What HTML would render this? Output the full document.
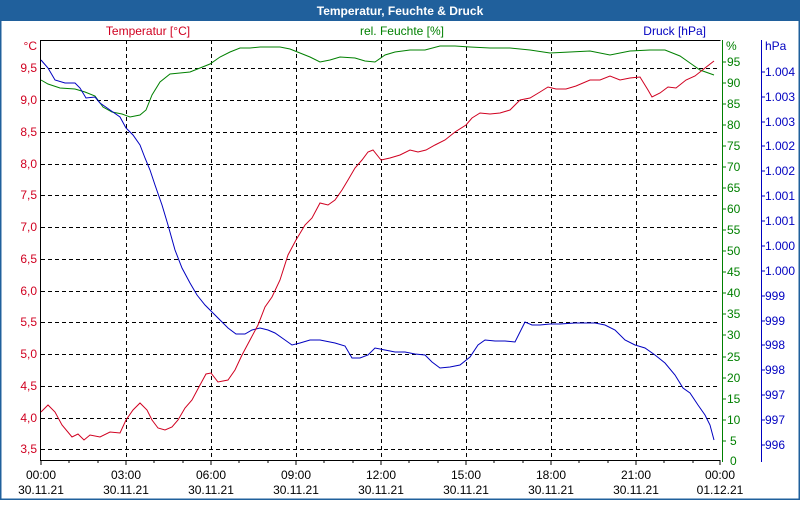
<!DOCTYPE html>
<html><head><meta charset="utf-8"><style>
body{margin:0;width:800px;height:500px;overflow:hidden;background:#fff;font-family:"Liberation Sans","DejaVu Sans",sans-serif}
</style></head><body>
<svg width="800" height="500" xmlns="http://www.w3.org/2000/svg" font-family="Liberation Sans, DejaVu Sans, sans-serif" font-size="12">
<rect x="0" y="0" width="800" height="500" fill="#fff"/>
<rect x="0" y="0" width="800" height="21" fill="#20609c"/>
<rect x="0.5" y="0.5" width="799" height="499" fill="none" stroke="#20609c" stroke-width="2"/>
<text x="400" y="15" fill="#fff" font-weight="bold" text-anchor="middle">Temperatur, Feuchte &amp; Druck</text>
<text x="148" y="35" fill="#d00020" text-anchor="middle">Temperatur [°C]</text>
<text x="402" y="35" fill="#008000" text-anchor="middle">rel. Feuchte [%]</text>
<text x="706" y="35" fill="#0000c0" text-anchor="end">Druck [hPa]</text>
<g stroke="#000" stroke-dasharray="4,3" stroke-width="1">
<line x1="41" y1="68.5" x2="720" y2="68.5"/><line x1="41" y1="100.5" x2="720" y2="100.5"/><line x1="41" y1="132.5" x2="720" y2="132.5"/><line x1="41" y1="164.5" x2="720" y2="164.5"/><line x1="41" y1="195.5" x2="720" y2="195.5"/><line x1="41" y1="227.5" x2="720" y2="227.5"/><line x1="41" y1="259.5" x2="720" y2="259.5"/><line x1="41" y1="291.5" x2="720" y2="291.5"/><line x1="41" y1="322.5" x2="720" y2="322.5"/><line x1="41" y1="354.5" x2="720" y2="354.5"/><line x1="41" y1="386.5" x2="720" y2="386.5"/><line x1="41" y1="418.5" x2="720" y2="418.5"/><line x1="41" y1="449.5" x2="720" y2="449.5"/>
<line x1="126.5" y1="40" x2="126.5" y2="460"/><line x1="211.5" y1="40" x2="211.5" y2="460"/><line x1="296.5" y1="40" x2="296.5" y2="460"/><line x1="381.5" y1="40" x2="381.5" y2="460"/><line x1="466.5" y1="40" x2="466.5" y2="460"/><line x1="551.5" y1="40" x2="551.5" y2="460"/><line x1="636.5" y1="40" x2="636.5" y2="460"/>
</g>
<path d="M40.5 40.5H720.5M40.5 40V460.5H720" stroke="#000" fill="none"/>
<g stroke="#000"><path d="M41 460v5M69 460v3M98 460v3M126 460v5M154 460v3M183 460v3M211 460v5M239 460v3M268 460v3M296 460v5M324 460v3M353 460v3M381 460v5M409 460v3M438 460v3M466 460v5M494 460v3M523 460v3M551 460v5M579 460v3M608 460v3M636 460v5M664 460v3M693 460v3M720 460v5"/></g>
<g font-size="12" fill="#000" text-anchor="middle">
<text x="41" y="479">00:00</text><text x="41" y="494">30.11.21</text>
<text x="126" y="479">03:00</text><text x="126" y="494">30.11.21</text>
<text x="211" y="479">06:00</text><text x="211" y="494">30.11.21</text>
<text x="296" y="479">09:00</text><text x="296" y="494">30.11.21</text>
<text x="381" y="479">12:00</text><text x="381" y="494">30.11.21</text>
<text x="466" y="479">15:00</text><text x="466" y="494">30.11.21</text>
<text x="551" y="479">18:00</text><text x="551" y="494">30.11.21</text>
<text x="636" y="479">21:00</text><text x="636" y="494">30.11.21</text>
<text x="720" y="479">00:00</text><text x="720" y="494">01.12.21</text>
</g>
<g fill="#d00020" text-anchor="end">
<text x="37" y="50">°C</text>
<text x="37" y="72">9,5</text><text x="37" y="104">9,0</text><text x="37" y="136">8,5</text><text x="37" y="168">8,0</text><text x="37" y="199">7,5</text><text x="37" y="231">7,0</text><text x="37" y="263">6,5</text><text x="37" y="295">6,0</text><text x="37" y="326">5,5</text><text x="37" y="358">5,0</text><text x="37" y="390">4,5</text><text x="37" y="422">4,0</text><text x="37" y="453">3,5</text>
</g>
<line x1="722.5" y1="40" x2="722.5" y2="462" stroke="#008000"/>
<g stroke="#008000"><path d="M722 62h4M722 83h4M722 104h4M722 125h4M722 146h4M722 167h4M722 188h4M722 209h4M722 230h4M722 251h4M722 272h4M722 293h4M722 314h4M722 335h4M722 357h4M722 378h4M722 399h4M722 420h4M722 441h4"/></g>
<g fill="#008000">
<text x="726" y="50">%</text>
<text x="727" y="66">95</text><text x="727" y="87">90</text><text x="727" y="108">85</text><text x="727" y="129">80</text><text x="727" y="150">75</text><text x="727" y="171">70</text><text x="727" y="192">65</text><text x="727" y="213">60</text><text x="727" y="234">55</text><text x="727" y="255">50</text><text x="727" y="276">45</text><text x="727" y="297">40</text><text x="727" y="318">35</text><text x="727" y="339">30</text><text x="727" y="361">25</text><text x="727" y="382">20</text><text x="727" y="403">15</text><text x="727" y="424">10</text><text x="730" y="445">5</text><text x="730" y="465">0</text>
</g>
<line x1="761.5" y1="40" x2="761.5" y2="462" stroke="#0000c0"/>
<g stroke="#0000c0"><path d="M761 72h4M761 97h4M761 122h4M761 146h4M761 171h4M761 196h4M761 221h4M761 246h4M761 271h4M761 296h4M761 321h4M761 345h4M761 370h4M761 395h4M761 420h4M761 445h4"/></g>
<g fill="#0000c0">
<text x="765" y="50">hPa</text>
<text x="765" y="76">1.004</text><text x="765" y="101">1.003</text><text x="765" y="126">1.003</text><text x="765" y="150">1.002</text><text x="765" y="175">1.002</text><text x="765" y="200">1.001</text><text x="765" y="225">1.001</text><text x="765" y="250">1.000</text><text x="765" y="275">1.000</text><text x="765" y="300">999</text><text x="765" y="325">999</text><text x="765" y="349">998</text><text x="765" y="374">998</text><text x="765" y="399">997</text><text x="765" y="424">997</text><text x="765" y="449">996</text>
</g>
<polyline fill="none" stroke="#008000" points="41,80 48,84 60,88 75,89 85,92 95,96 103,107 112,112 122,114 130,117 140,115 146,110 152,95 160,82 170,74 180,73 190,72 200,68 210,64 220,57 230,52 240,48 250,48 260,47 270,47 280,47 290,49 300,53 310,57 320,62 330,60 340,57 355,58 365,61 375,62 385,55 395,52 410,50 425,50 440,46 455,46 470,47 490,48 510,48 530,50 550,53 570,52 590,51 610,55 630,51 650,50 665,50 680,56 690,63 700,70 714,75"/>
<polyline fill="none" stroke="#0000c0" points="41,60 48,68 55,80 65,83 75,83 80,88 86,98 95,97 100,103 110,110 120,117 126,128 133,135 140,145 145,158 150,170 155,185 162,205 168,225 175,250 182,268 190,283 197,295 205,305 213,313 220,320 228,328 236,334 245,334 252,330 260,328 268,330 275,333 285,340 292,345 300,343 310,340 320,340 335,343 345,346 352,358 360,358 368,355 375,348 385,350 395,352 405,352 415,354 425,355 432,362 440,368 450,367 460,365 470,357 478,345 485,340 495,341 505,341 515,342 525,322 532,325 540,325 550,324 560,324 575,323 585,323 595,323 605,325 615,330 625,340 635,345 645,348 655,355 665,363 675,375 683,388 690,393 698,405 705,415 710,425 714,440"/>
<polyline fill="none" stroke="#d00020" points="41,412 48,405 55,412 62,425 72,437 78,434 84,440 90,435 100,437 110,432 120,433 126,420 133,410 140,403 147,410 152,420 158,428 165,430 172,427 178,420 185,408 192,400 200,385 206,374 211,373 218,382 228,380 235,370 242,355 250,340 258,325 265,307 272,297 280,280 288,255 296,240 305,225 312,218 320,203 328,205 335,200 342,190 348,180 355,168 362,160 368,152 373,150 381,160 390,158 400,155 410,150 418,152 426,150 435,145 445,140 455,132 466,125 472,118 480,113 490,114 500,113 510,110 520,100 530,98 540,92 548,87 556,89 566,89 576,86 590,80 600,80 610,76 620,80 630,78 640,77 648,90 652,97 660,93 668,87 676,88 686,80 695,76 705,68 714,61"/>
</svg>
</body></html>
